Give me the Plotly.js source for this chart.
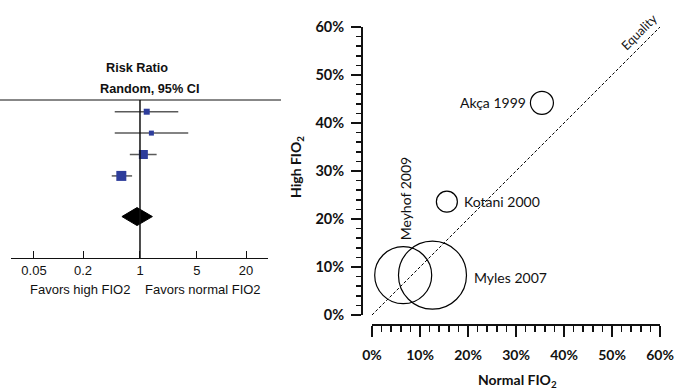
<!DOCTYPE html>
<html>
<head>
<meta charset="utf-8">
<script src="https://cdn.plot.ly/plotly-3.0.1.min.js"></script>
<style>html,body{margin:0;padding:0;background:#fff;}#chart{width:679px;height:392px;}</style>
</head>
<body>
<div id="chart"></div>
<script>
// ---- Forest plot data (risk ratio, random, 95% CI) ----
const forestRows = ['Study A', 'Study B', 'Study C', 'Study D'];
const rrPoint = [1.21, 1.38, 1.10, 0.59];
const rrLow = [0.49, 0.49, 0.75, 0.45];
const rrHigh = [2.95, 3.91, 1.60, 0.80];
const rrWeight = [6, 5, 9, 10];
const pooledRR = [0.60, 0.92, 1.42]; // low, point, high
const forestTickVals = [0.05, 0.2, 1, 5, 20];
const forestTickText = ['0.05', '0.2', '1', '5', '20'];

// ---- Bubble plot data ----
const bubbleStudies = ['Akça 1999', 'Kotani 2000', 'Meyhof 2009', 'Myles 2007'];
const normalFIO2 = [0.354, 0.156, 0.065, 0.126];
const highFIO2 = [0.442, 0.236, 0.083, 0.083];
const bubbleWeight = [23, 21, 57, 68];
const equalityLine = [0, 0.6];

// ---- build traces ----
const rowIdx = forestRows.map((_, i) => i);
const pooledRow = 4.9;
const diamondHalf = 0.42;

const ciX = [], ciY = [];
rowIdx.forEach(i => { ciX.push(rrLow[i], rrHigh[i], null); ciY.push(i, i, null); });

const traces = [
  {
    type: 'scatter', mode: 'lines', x: ciX, y: ciY, xaxis: 'x', yaxis: 'y',
    line: {color: '#5a5a5a', width: 1.5}, hoverinfo: 'skip', showlegend: false
  },
  {
    type: 'scatter', mode: 'markers', x: rrPoint, y: rowIdx, xaxis: 'x', yaxis: 'y',
    marker: {symbol: 'square', size: rrWeight, color: '#2e3d9b', opacity: 1, line: {width: 0}},
    text: forestRows, showlegend: false
  },
  {
    type: 'scatter', mode: 'lines', fill: 'toself', xaxis: 'x', yaxis: 'y',
    x: [pooledRR[0], pooledRR[1], pooledRR[2], pooledRR[1], pooledRR[0]],
    y: [pooledRow, pooledRow - diamondHalf, pooledRow, pooledRow + diamondHalf, pooledRow],
    line: {color: '#000', width: 1}, fillcolor: '#000', showlegend: false, hoverinfo: 'skip'
  },
  {
    type: 'scatter', mode: 'lines', x: equalityLine, y: equalityLine, xaxis: 'x2', yaxis: 'y2',
    line: {color: '#000', width: 1, dash: '3px,2px'}, showlegend: false, hoverinfo: 'skip'
  },
  {
    type: 'scatter', mode: 'markers', x: normalFIO2, y: highFIO2, xaxis: 'x2', yaxis: 'y2',
    text: bubbleStudies, cliponaxis: false,
    marker: {symbol: 'circle', size: bubbleWeight, sizemode: 'diameter', color: 'rgba(0,0,0,0)',
             opacity: 1, line: {color: '#000', width: 1.2}},
    showlegend: false
  }
];

const labelFont = {family: 'Lato, sans-serif', size: 14, color: '#111'};
const labelOpts = [
  {xanchor: 'right', xshift: -14, yshift: 0, textangle: 0},
  {xanchor: 'left', xshift: 15, yshift: 0, textangle: 0},
  {xanchor: 'center', xshift: 2, yshift: 77, textangle: -90},
  {xanchor: 'left', xshift: 40, yshift: -2, textangle: 0}
];
const annotations = bubbleStudies.map((s, i) => Object.assign({
  x: normalFIO2[i], y: highFIO2[i], xref: 'x2', yref: 'y2', text: s, showarrow: false,
  yanchor: 'middle', font: labelFont
}, labelOpts[i]));

function paperText(px, py, text, font, angle) {
  return {x: px / 679, y: 1 - py / 392, xref: 'paper', yref: 'paper', text: text, showarrow: false,
          xanchor: 'center', yanchor: 'middle', textangle: angle || 0, font: font};
}
const arialB = {family: 'Liberation Sans, Arial, sans-serif', size: 12.7, color: '#111'};
const arial = {family: 'Liberation Sans, Arial, sans-serif', size: 13, color: '#111'};
const latoB = {family: 'Lato, sans-serif', size: 14, color: '#111'};

annotations.push(
  {x: 0.558, y: 0.59, xref: 'x2', yref: 'y2', text: 'Equality', showarrow: false, textangle: -45,
   xanchor: 'center', yanchor: 'middle', font: {family: 'Lato, sans-serif', size: 12.5, color: '#111'}},
  paperText(297, 167, '<b>High FIO<sub>2</sub></b>', latoB, -90),
  paperText(517, 380, '<b>Normal FIO<sub>2</sub></b>', latoB),
  paperText(137, 68, '<b>Risk Ratio</b>', arialB),
  paperText(149, 89, '<b>Random, 95% CI</b>', arialB),
  paperText(80, 289, 'Favors high FIO2', arial),
  paperText(203, 289, 'Favors normal FIO2', arial)
);

const layout = {
  width: 679, height: 392,
  margin: {l: 0, r: 0, t: 0, b: 0},
  paper_bgcolor: '#fff', plot_bgcolor: 'rgba(0,0,0,0)',
  showlegend: false,
  xaxis: {
    type: 'log', domain: [11 / 679, 268 / 679], range: [-1.583, 1.571], anchor: 'y',
    showline: true, linecolor: '#111', linewidth: 1, showgrid: false, zeroline: false,
    tickvals: forestTickVals, ticktext: forestTickText, ticks: 'inside', ticklen: 7, tickcolor: '#111',
    ticklabelstandoff: 0,
    tickfont: {family: 'Liberation Sans, Arial, sans-serif', size: 13, color: '#111'}
  },
  yaxis: {
    domain: [1 - 258 / 392, 1 - 100 / 392], range: [6.836, -0.547], anchor: 'x',
    showline: false, showgrid: false, zeroline: false, showticklabels: false, ticks: ''
  },
  xaxis2: {
    domain: [372 / 679, 660 / 679], range: [0, 0.6], anchor: 'free', position: 1 - 325 / 392,
    showline: true, linecolor: '#111', linewidth: 2, showgrid: false, zeroline: false,
    dtick: 0.1, tick0: 0, tickformat: '.0%', ticks: 'outside', ticklen: 11, tickwidth: 2, tickcolor: '#111',
    ticklabelstandoff: 6,
    minor: {dtick: 0.02, ticks: 'outside', ticklen: 6, tickwidth: 1.5, tickcolor: '#111', showgrid: false},
    tickfont: {family: 'Lato, sans-serif', size: 14, weight: 'bold', color: '#111'}
  },
  yaxis2: {
    domain: [1 - 315 / 392, 1 - 27 / 392], range: [0, 0.6], anchor: 'free', position: 362 / 679,
    showline: true, linecolor: '#111', linewidth: 2, showgrid: false, zeroline: false,
    dtick: 0.1, tick0: 0, tickformat: '.0%', ticks: 'outside', ticklen: 10, tickwidth: 2, tickcolor: '#111',
    ticklabelstandoff: 4,
    minor: {dtick: 0.02, ticks: 'outside', ticklen: 5, tickwidth: 1.5, tickcolor: '#111', showgrid: false},
    tickfont: {family: 'Lato, sans-serif', size: 14.5, weight: 'bold', color: '#111'}
  },
  shapes: [
    {type: 'line', xref: 'paper', yref: 'paper', x0: 0, x1: 281 / 679, y0: 1 - 100 / 392, y1: 1 - 100 / 392,
     line: {color: '#111', width: 1}},
    {type: 'line', xref: 'x', yref: 'paper', x0: 1, x1: 1, y0: 1 - 258 / 392, y1: 1 - 100 / 392,
     line: {color: '#111', width: 1.5}}
  ],
  annotations: annotations
};

Plotly.newPlot('chart', traces, layout, {displayModeBar: false, staticPlot: true});
</script>
</body>
</html>
